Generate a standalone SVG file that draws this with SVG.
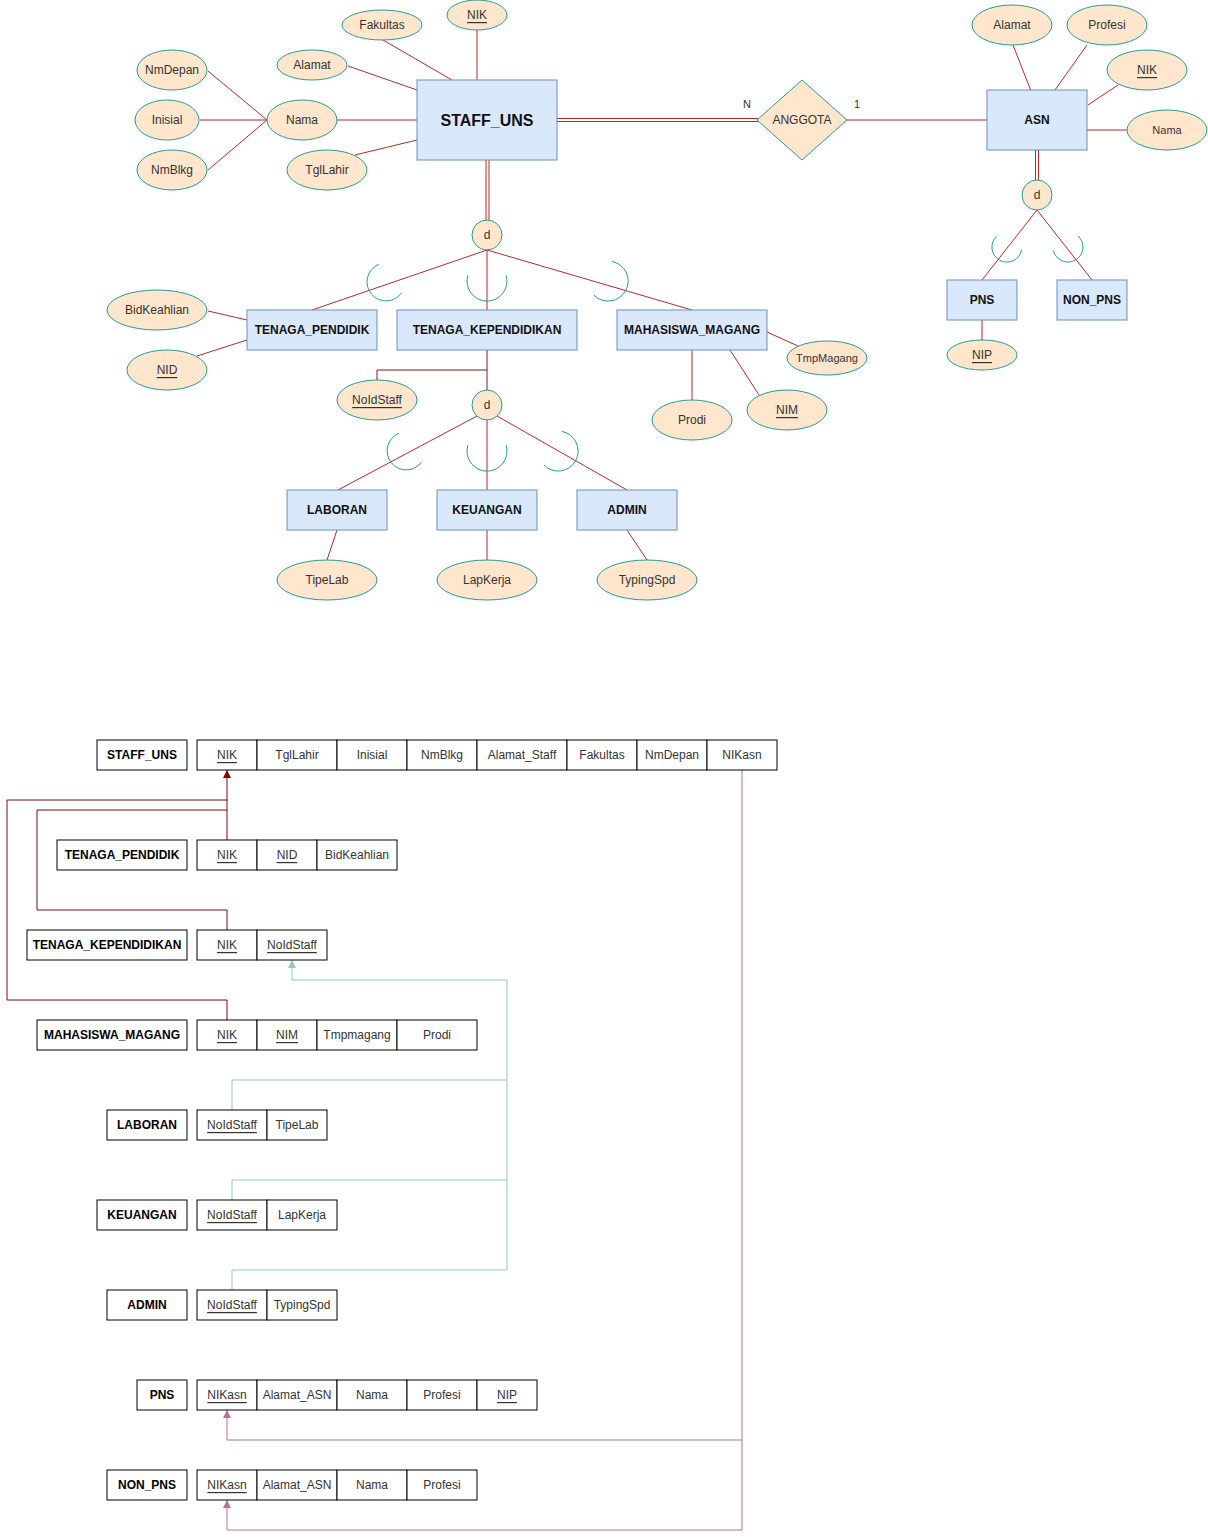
<svg xmlns="http://www.w3.org/2000/svg" width="1208" height="1540" viewBox="0 0 1208 1540">
<defs>
<style>
text{font-family:"Liberation Sans",Arial,Helvetica,sans-serif;font-size:12px;text-anchor:middle;dominant-baseline:central;fill:#333}
.att{fill:#ffe6cc;stroke:#269b94;stroke-width:1}
.ent{fill:#dae8fc;stroke:#6c8ebf;stroke-width:1}
.et{font-weight:bold;fill:#111}
.big{font-size:16px}
.u{text-decoration:underline}
.ln{stroke:#b22a2a;stroke-width:1;fill:none}
.dk{stroke:#8e1414;stroke-width:1;fill:none}
.arc{stroke:#269b94;stroke-width:1;fill:none}
.cell{fill:#fff;stroke:#000;stroke-width:1}
.tn{font-weight:bold;fill:#000}
.fkr{stroke:#7a0b0b;stroke-width:1;fill:none}
.fkt{stroke:#91c9bf;stroke-width:1;fill:none}
.fkp{stroke:#b5739d;stroke-width:1;fill:none}
.small{font-size:11px}
</style>
<marker id="mr" viewBox="0 0 10 10" refX="10" refY="5" markerWidth="8" markerHeight="8" markerUnits="userSpaceOnUse" orient="auto"><path d="M0,0 L10,5 L0,10 z" fill="#7a0b0b"/></marker>
<marker id="mt" viewBox="0 0 10 10" refX="10" refY="5" markerWidth="8" markerHeight="8" markerUnits="userSpaceOnUse" orient="auto"><path d="M0,0 L10,5 L0,10 z" fill="#91c9bf"/></marker>
<marker id="mp" viewBox="0 0 10 10" refX="10" refY="5" markerWidth="8" markerHeight="8" markerUnits="userSpaceOnUse" orient="auto"><path d="M0,0 L10,5 L0,10 z" fill="#b5739d"/></marker>
</defs>
<rect width="1208" height="1540" fill="#fff"/>

<g id="connectors">
<line class="ln" x1="477" y1="30" x2="477" y2="80"/>
<line class="ln" x1="383" y1="40" x2="452" y2="80"/>
<line class="ln" x1="348" y1="66" x2="417" y2="90"/>
<line class="ln" x1="337" y1="120" x2="417" y2="120"/>
<line class="ln" x1="208" y1="71" x2="267" y2="120"/>
<line class="ln" x1="200" y1="120" x2="267" y2="120"/>
<line class="ln" x1="208" y1="170" x2="267" y2="120"/>
<line class="ln" x1="355" y1="155" x2="417" y2="140"/>
<line class="ln" x1="557" y1="118.5" x2="758" y2="118.5"/>
<line class="ln" x1="557" y1="121.5" x2="758" y2="121.5"/>
<line class="ln" x1="847" y1="120" x2="987" y2="120"/>
<line class="ln" x1="1013" y1="45" x2="1031" y2="91"/>
<line class="ln" x1="1087" y1="45" x2="1055" y2="90"/>
<line class="ln" x1="1118" y1="85" x2="1088" y2="105"/>
<line class="ln" x1="1087" y1="130" x2="1127" y2="130"/>
<line class="ln" x1="1035.5" y1="150" x2="1035.5" y2="180"/>
<line class="ln" x1="1038.5" y1="150" x2="1038.5" y2="180"/>
<line class="ln" x1="1037" y1="210" x2="982" y2="280"/>
<line class="ln" x1="1037" y1="210" x2="1092" y2="280"/>
<line class="ln" x1="982" y1="320" x2="982" y2="340"/>
<line class="ln" x1="486" y1="160" x2="486" y2="220"/>
<line class="ln" x1="489" y1="160" x2="489" y2="220"/>
<line class="ln" x1="487" y1="250" x2="312" y2="310"/>
<line class="ln" x1="487" y1="250" x2="487" y2="310"/>
<line class="ln" x1="487" y1="250" x2="692" y2="310"/>
<line class="ln" x1="208" y1="311" x2="247" y2="320"/>
<line class="ln" x1="197" y1="356" x2="247" y2="340"/>
<line class="dk" x1="487" y1="350" x2="487" y2="390"/>
<polyline class="dk" points="377,380 377,370 487,370"/>
<line class="ln" x1="477" y1="416" x2="338" y2="490"/>
<line class="ln" x1="487" y1="420" x2="487" y2="490"/>
<line class="ln" x1="497" y1="416" x2="627" y2="490"/>
<line class="ln" x1="767" y1="332" x2="798" y2="346"/>
<line class="ln" x1="730" y1="350" x2="759" y2="395"/>
<line class="ln" x1="692" y1="350" x2="692" y2="400"/>
<line class="ln" x1="337" y1="530" x2="327" y2="560"/>
<line class="ln" x1="487" y1="530" x2="487" y2="560"/>
<line class="ln" x1="627" y1="530" x2="647" y2="560"/>

<path class="arc" d="M401.8,292.5 A19,19 0 1 1 378.7,264.4"/>
<path class="arc" d="M506.1,275.2 A20,20 0 1 1 467.9,275.2"/>
<path class="arc" d="M611.8,261.4 A20,20 0 1 1 593.9,295.1"/>
<path class="arc" d="M421.7,461.8 A19,19 0 1 1 399.0,433.3"/>
<path class="arc" d="M506.1,445.2 A20,20 0 1 1 467.9,445.2"/>
<path class="arc" d="M561.8,431.4 A20,20 0 1 1 543.9,465.1"/>
<path class="arc" d="M1021.7,249.7 A15,15 0 1 1 996.3,236.5"/>
<path class="arc" d="M1078.0,235.9 A15,15 0 1 1 1053.4,250.6"/>

<polyline class="fkr" points="227,840 227,770" marker-end="url(#mr)"/>
<polyline class="fkr" points="227,930 227,910 37,910 37,810 227,810"/>
<polyline class="fkr" points="227,1020 227,1000 7,1000 7,800 227,800"/>
<polyline class="fkt" points="232,1110 232,1080 507,1080 507,980 292,980 292,960" marker-end="url(#mt)"/>
<polyline class="fkt" points="232,1200 232,1180 507,1180"/>
<polyline class="fkt" points="232,1290 232,1270 507,1270 507,1080"/>
<polyline class="fkp" points="742,770 742,1530 227,1530 227,1500" marker-end="url(#mp)"/>
<polyline class="fkp" points="742,1440 227,1440 227,1410" marker-end="url(#mp)"/>
</g>

<g id="STAFF_UNS"><rect class="ent" x="417" y="80" width="140" height="80"/><text class="et big" x="487" y="120">STAFF_UNS</text></g>
<g id="attr-NIK"><ellipse class="att" cx="477" cy="15" rx="30" ry="15"/><text class="u" x="477" y="15">NIK</text></g>
<g id="attr-Fakultas"><ellipse class="att" cx="382" cy="25" rx="40" ry="15"/><text x="382" y="25">Fakultas</text></g>
<g id="attr-Alamat"><ellipse class="att" cx="312" cy="65" rx="35" ry="15"/><text x="312" y="65">Alamat</text></g>
<g id="attr-Nama"><ellipse class="att" cx="302" cy="120" rx="35" ry="20"/><text x="302" y="120">Nama</text></g>
<g id="attr-NmDepan"><ellipse class="att" cx="172" cy="70" rx="35" ry="20"/><text x="172" y="70">NmDepan</text></g>
<g id="attr-Inisial"><ellipse class="att" cx="167" cy="120" rx="32" ry="20"/><text x="167" y="120">Inisial</text></g>
<g id="attr-NmBlkg"><ellipse class="att" cx="172" cy="170" rx="35" ry="20"/><text x="172" y="170">NmBlkg</text></g>
<g id="attr-TglLahir"><ellipse class="att" cx="327" cy="170" rx="40" ry="20"/><text x="327" y="170">TglLahir</text></g>

<g id="ANGGOTA"><polygon class="att" points="802,80 847,120 802,160 757,120"/><text x="802" y="120">ANGGOTA</text></g>
<g id="card-N"><text class="small" x="747" y="104">N</text></g>
<g id="card-1"><text class="small" x="857" y="104">1</text></g>

<g id="ASN"><rect class="ent" x="987" y="90" width="100" height="60"/><text class="et" x="1037" y="120">ASN</text></g>
<g id="asn-Alamat"><ellipse class="att" cx="1012" cy="25" rx="40" ry="20"/><text x="1012" y="25">Alamat</text></g>
<g id="asn-Profesi"><ellipse class="att" cx="1107" cy="25" rx="40" ry="20"/><text x="1107" y="25">Profesi</text></g>
<g id="asn-NIK"><ellipse class="att" cx="1147" cy="70" rx="40" ry="20"/><text class="u" x="1147" y="70">NIK</text></g>
<g id="asn-Nama"><ellipse class="att" cx="1167" cy="130" rx="40" ry="20"/><text class="small" x="1167" y="130">Nama</text></g>
<g id="d-asn"><circle class="att" cx="1037" cy="195" r="15"/><text x="1037" y="195">d</text></g>
<g id="PNS"><rect class="ent" x="947" y="280" width="70" height="40"/><text class="et" x="982" y="300">PNS</text></g>
<g id="NON_PNS"><rect class="ent" x="1057" y="280" width="70" height="40"/><text class="et" x="1092" y="300">NON_PNS</text></g>
<g id="pns-NIP"><ellipse class="att" cx="982" cy="355" rx="35" ry="15"/><text class="u" x="982" y="355">NIP</text></g>

<g id="d-staff"><circle class="att" cx="487" cy="235" r="15"/><text x="487" y="235">d</text></g>
<g id="TENAGA_PENDIDIK"><rect class="ent" x="247" y="310" width="130" height="40"/><text class="et" x="312" y="330">TENAGA_PENDIDIK</text></g>
<g id="TENAGA_KEPENDIDIKAN"><rect class="ent" x="397" y="310" width="180" height="40"/><text class="et" x="487" y="330">TENAGA_KEPENDIDIKAN</text></g>
<g id="MAHASISWA_MAGANG"><rect class="ent" x="617" y="310" width="150" height="40"/><text class="et" x="692" y="330">MAHASISWA_MAGANG</text></g>
<g id="tp-BidKeahlian"><ellipse class="att" cx="157" cy="310" rx="50" ry="20"/><text x="157" y="310">BidKeahlian</text></g>
<g id="tp-NID"><ellipse class="att" cx="167" cy="370" rx="40" ry="20"/><text class="u" x="167" y="370">NID</text></g>
<g id="tk-NoIdStaff"><ellipse class="att" cx="377" cy="400" rx="40" ry="20"/><text class="u" x="377" y="400">NoIdStaff</text></g>
<g id="mm-TmpMagang"><ellipse class="att" cx="827" cy="358" rx="40" ry="17"/><text class="small" x="827" y="358">TmpMagang</text></g>
<g id="mm-NIM"><ellipse class="att" cx="787" cy="410" rx="40" ry="20"/><text class="u" x="787" y="410">NIM</text></g>
<g id="mm-Prodi"><ellipse class="att" cx="692" cy="420" rx="40" ry="20"/><text x="692" y="420">Prodi</text></g>

<g id="d-tk"><circle class="att" cx="487" cy="405" r="15"/><text x="487" y="405">d</text></g>
<g id="LABORAN"><rect class="ent" x="287" y="490" width="100" height="40"/><text class="et" x="337" y="510">LABORAN</text></g>
<g id="KEUANGAN"><rect class="ent" x="437" y="490" width="100" height="40"/><text class="et" x="487" y="510">KEUANGAN</text></g>
<g id="ADMIN"><rect class="ent" x="577" y="490" width="100" height="40"/><text class="et" x="627" y="510">ADMIN</text></g>
<g id="lab-TipeLab"><ellipse class="att" cx="327" cy="580" rx="50" ry="20"/><text x="327" y="580">TipeLab</text></g>
<g id="keu-LapKerja"><ellipse class="att" cx="487" cy="580" rx="50" ry="20"/><text x="487" y="580">LapKerja</text></g>
<g id="adm-TypingSpd"><ellipse class="att" cx="647" cy="580" rx="50" ry="20"/><text x="647" y="580">TypingSpd</text></g>

<g id="tbl-STAFF_UNS">
<rect class="cell" x="97" y="740" width="90" height="30"/><text class="tn" x="142" y="755">STAFF_UNS</text>
<rect class="cell" x="197" y="740" width="60" height="30"/><text class="u" x="227" y="755">NIK</text>
<rect class="cell" x="257" y="740" width="80" height="30"/><text x="297" y="755">TglLahir</text>
<rect class="cell" x="337" y="740" width="70" height="30"/><text x="372" y="755">Inisial</text>
<rect class="cell" x="407" y="740" width="70" height="30"/><text x="442" y="755">NmBlkg</text>
<rect class="cell" x="477" y="740" width="90" height="30"/><text x="522" y="755">Alamat_Staff</text>
<rect class="cell" x="567" y="740" width="70" height="30"/><text x="602" y="755">Fakultas</text>
<rect class="cell" x="637" y="740" width="70" height="30"/><text x="672" y="755">NmDepan</text>
<rect class="cell" x="707" y="740" width="70" height="30"/><text x="742" y="755">NIKasn</text>
</g>
<g id="tbl-TENAGA_PENDIDIK">
<rect class="cell" x="57" y="840" width="130" height="30"/><text class="tn" x="122" y="855">TENAGA_PENDIDIK</text>
<rect class="cell" x="197" y="840" width="60" height="30"/><text class="u" x="227" y="855">NIK</text>
<rect class="cell" x="257" y="840" width="60" height="30"/><text class="u" x="287" y="855">NID</text>
<rect class="cell" x="317" y="840" width="80" height="30"/><text x="357" y="855">BidKeahlian</text>
</g>
<g id="tbl-TENAGA_KEPENDIDIKAN">
<rect class="cell" x="27" y="930" width="160" height="30"/><text class="tn" x="107" y="945">TENAGA_KEPENDIDIKAN</text>
<rect class="cell" x="197" y="930" width="60" height="30"/><text class="u" x="227" y="945">NIK</text>
<rect class="cell" x="257" y="930" width="70" height="30"/><text class="u" x="292" y="945">NoIdStaff</text>
</g>
<g id="tbl-MAHASISWA_MAGANG">
<rect class="cell" x="37" y="1020" width="150" height="30"/><text class="tn" x="112" y="1035">MAHASISWA_MAGANG</text>
<rect class="cell" x="197" y="1020" width="60" height="30"/><text class="u" x="227" y="1035">NIK</text>
<rect class="cell" x="257" y="1020" width="60" height="30"/><text class="u" x="287" y="1035">NIM</text>
<rect class="cell" x="317" y="1020" width="80" height="30"/><text x="357" y="1035">Tmpmagang</text>
<rect class="cell" x="397" y="1020" width="80" height="30"/><text x="437" y="1035">Prodi</text>
</g>
<g id="tbl-LABORAN">
<rect class="cell" x="107" y="1110" width="80" height="30"/><text class="tn" x="147" y="1125">LABORAN</text>
<rect class="cell" x="197" y="1110" width="70" height="30"/><text class="u" x="232" y="1125">NoIdStaff</text>
<rect class="cell" x="267" y="1110" width="60" height="30"/><text x="297" y="1125">TipeLab</text>
</g>
<g id="tbl-KEUANGAN">
<rect class="cell" x="97" y="1200" width="90" height="30"/><text class="tn" x="142" y="1215">KEUANGAN</text>
<rect class="cell" x="197" y="1200" width="70" height="30"/><text class="u" x="232" y="1215">NoIdStaff</text>
<rect class="cell" x="267" y="1200" width="70" height="30"/><text x="302" y="1215">LapKerja</text>
</g>
<g id="tbl-ADMIN">
<rect class="cell" x="107" y="1290" width="80" height="30"/><text class="tn" x="147" y="1305">ADMIN</text>
<rect class="cell" x="197" y="1290" width="70" height="30"/><text class="u" x="232" y="1305">NoIdStaff</text>
<rect class="cell" x="267" y="1290" width="70" height="30"/><text x="302" y="1305">TypingSpd</text>
</g>
<g id="tbl-PNS">
<rect class="cell" x="137" y="1380" width="50" height="30"/><text class="tn" x="162" y="1395">PNS</text>
<rect class="cell" x="197" y="1380" width="60" height="30"/><text class="u" x="227" y="1395">NIKasn</text>
<rect class="cell" x="257" y="1380" width="80" height="30"/><text x="297" y="1395">Alamat_ASN</text>
<rect class="cell" x="337" y="1380" width="70" height="30"/><text x="372" y="1395">Nama</text>
<rect class="cell" x="407" y="1380" width="70" height="30"/><text x="442" y="1395">Profesi</text>
<rect class="cell" x="477" y="1380" width="60" height="30"/><text class="u" x="507" y="1395">NIP</text>
</g>
<g id="tbl-NON_PNS">
<rect class="cell" x="107" y="1470" width="80" height="30"/><text class="tn" x="147" y="1485">NON_PNS</text>
<rect class="cell" x="197" y="1470" width="60" height="30"/><text class="u" x="227" y="1485">NIKasn</text>
<rect class="cell" x="257" y="1470" width="80" height="30"/><text x="297" y="1485">Alamat_ASN</text>
<rect class="cell" x="337" y="1470" width="70" height="30"/><text x="372" y="1485">Nama</text>
<rect class="cell" x="407" y="1470" width="70" height="30"/><text x="442" y="1485">Profesi</text>
</g>
</svg>
